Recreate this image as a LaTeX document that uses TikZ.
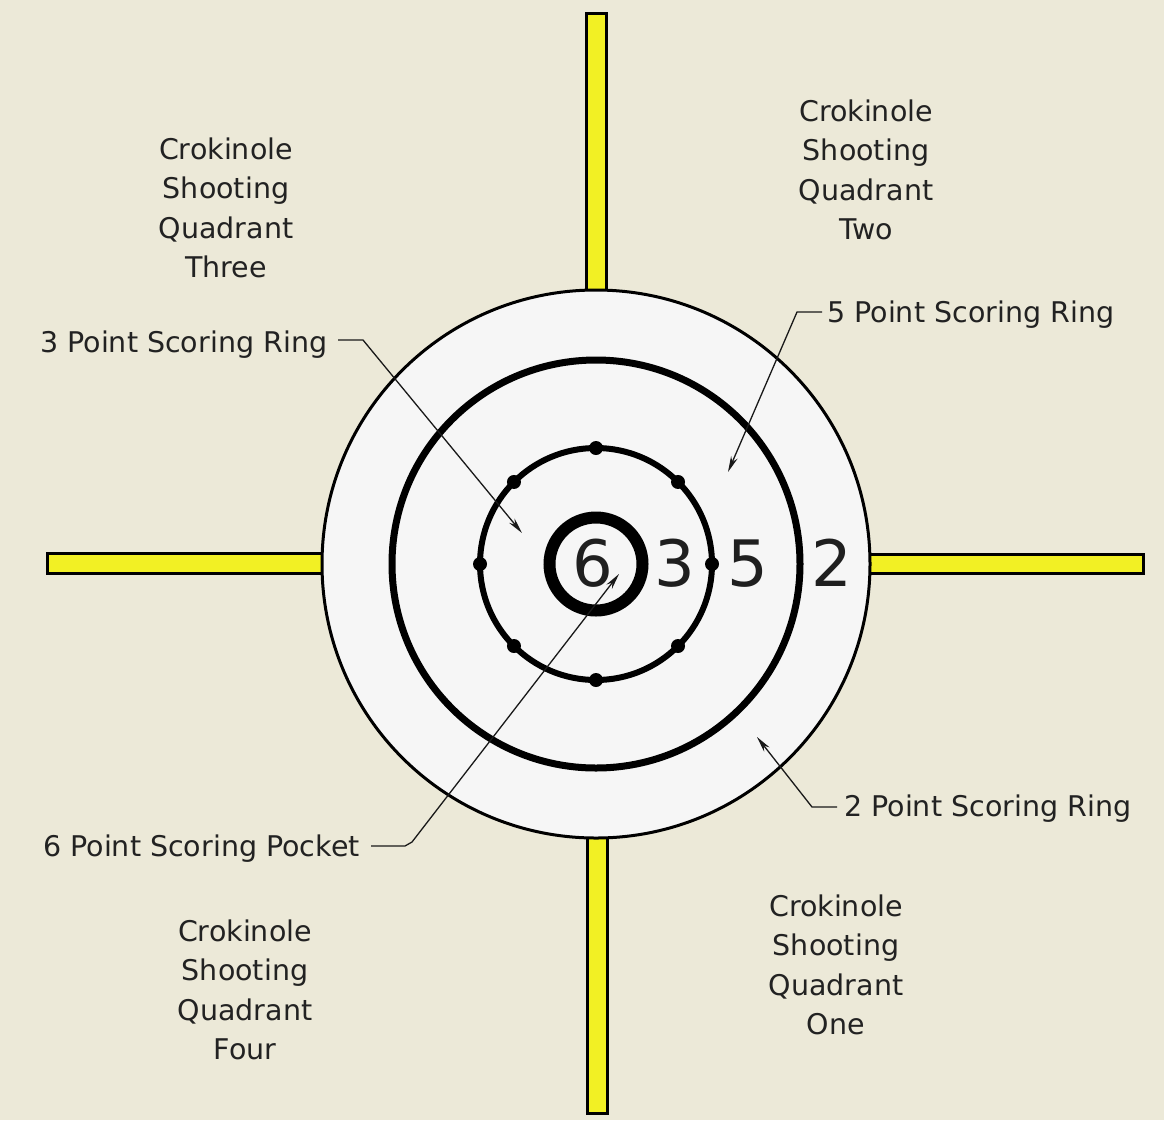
\documentclass[tikz,border=0pt]{standalone}
\usepackage{fontspec}
\setmainfont{DejaVu Sans}
\usetikzlibrary{arrows.meta,calc}
\definecolor{bgc}{HTML}{ECE9D8}
\definecolor{barc}{HTML}{F2F024}
\definecolor{txtc}{HTML}{222222}
\definecolor{boardc}{HTML}{F6F6F6}
\tikzset{
  bar/.style={draw=black, line width=3pt, fill=barc},
  lbl/.style={inner sep=0pt, text=txtc, font=\fontsize{28.5}{39.5}\selectfont},
  quad/.style={lbl, align=center, anchor=north},
  num/.style={inner sep=0pt, text=black!88, font=\fontsize{64}{70}\selectfont, anchor=base},
  leader/.style={draw=black!90, line width=1.3pt, -{Stealth[length=16pt,width=7pt]}},
  peg/.style={fill=black, draw=none}
}
\begin{document}
\begin{tikzpicture}[x=1pt,y=-1pt]
\useasboundingbox (0,0) rectangle (1164,1120);
\fill[bgc] (0,0) rectangle (1164,1120);
% shooting lines
\draw[bar] (586,13) rectangle (606,300);
\draw[bar] (587,830) rectangle (607,1113);
\draw[bar] (47,553) rectangle (330,573);
\draw[bar] (862,554) rectangle (1143,573);
% board
\coordinate (c) at (596,564);
\draw[line width=3pt, fill=boardc] (c) circle[radius=274];
\draw[line width=7pt] (c) circle[radius=204];
\draw[line width=6pt] (c) circle[radius=116];
\foreach \a in {0,45,...,315}{
  \fill[peg] ($(c)+(\a:116)$) circle[radius=7];
}
\draw[line width=12pt] (c) circle[radius=46.5];
% numbers
\node[num] (n6) at (593,586) {6};
\node[num] (n3) at (675,586) {3};
\node[num] (n5) at (748,586) {5};
\node[num] (n2) at (832,586) {2};
% quadrant labels
\node[quad] (q3) at (226,137.5) {Crokinole\\Shooting\\Quadrant\\Three};
\node[quad] (q2) at (866,99.5) {Crokinole\\Shooting\\Quadrant\\Two};
\node[quad] (q4) at (245,919.5) {Crokinole\\Shooting\\Quadrant\\Four};
\node[quad] (q1) at (836,894.5) {Crokinole\\Shooting\\Quadrant\\One};
% ring labels
\node[lbl, anchor=base west] (l3) at (40,352) {3 Point Scoring Ring};
\node[lbl, anchor=base west] (l5) at (827,322) {5 Point Scoring Ring};
\node[lbl, anchor=base west] (l2) at (844,816) {2 Point Scoring Ring};
\node[lbl, anchor=base west] (l6) at (43,856) {6 Point Scoring Pocket};
% leader coordinates
\coordinate (s3) at (338,340); \coordinate (k3) at (363,340); \coordinate (t3) at (522,533);
\coordinate (s5) at (822,312); \coordinate (k5) at (797,312); \coordinate (t5) at (728,472);
\coordinate (s2) at (837,807); \coordinate (k2) at (812,807); \coordinate (t2) at (757,737);
\coordinate (s6) at (371,846); \coordinate (k6) at (405,846); \coordinate (j6) at (412,842); \coordinate (t6) at (619,574);
\draw[leader] (s3) -- (k3) -- (t3);
\draw[leader] (s5) -- (k5) -- (t5);
\draw[leader] (s2) -- (k2) -- (t2);
\draw[leader] (s6) -- (k6) -- (j6) -- (t6);
\end{tikzpicture}
\end{document}
